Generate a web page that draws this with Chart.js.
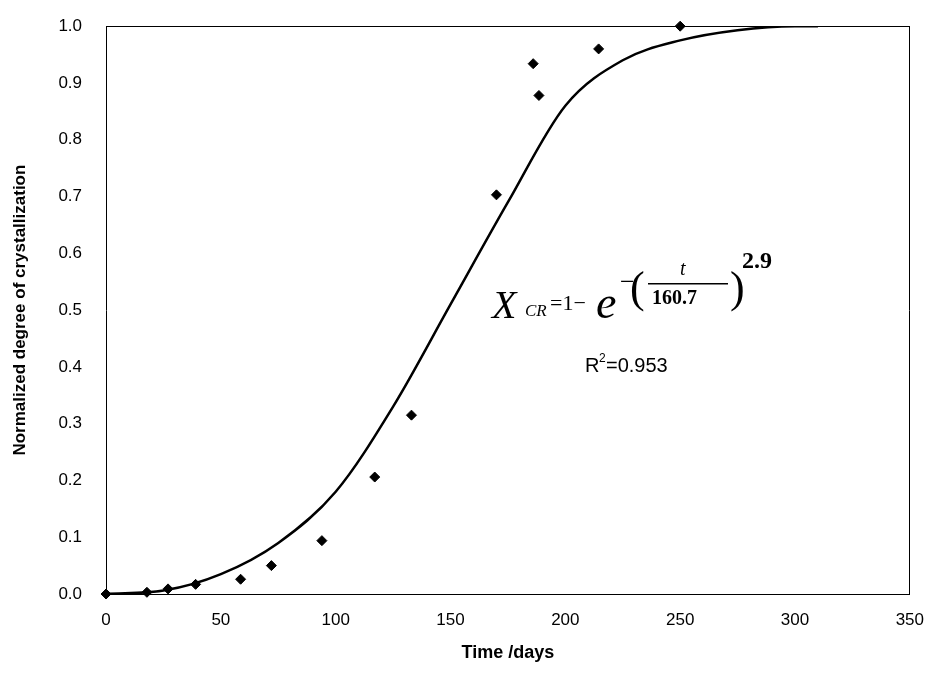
<!DOCTYPE html>
<html>
<head>
<meta charset="utf-8">
<script src="https://cdn.jsdelivr.net/npm/chart.js@4"></script>
<style>
  body { margin: 0; background: #fff; }
  #wrap { width: 932px; height: 684px; }
</style>
</head>
<body>
<div id="wrap"><canvas id="c"></canvas></div>
<script>
// measured points
const measDays = [0, 17.8, 27, 39, 58.6, 72, 94, 117, 133, 170, 186, 188.5, 214.5, 250];
const measX = [0, 0.003, 0.009, 0.017, 0.026, 0.05, 0.094, 0.206, 0.315, 0.703, 0.934, 0.878, 0.96, 1.0];

// fitted curve
const fitDays = [0, 25, 50, 75, 100, 125, 150, 175, 200, 225, 250, 275, 300, 310];
const fitX = [0, 0.006, 0.035, 0.09, 0.18, 0.33, 0.51, 0.69, 0.86, 0.94, 0.975, 0.993, 1.0, 1.0];

const xTicks = [0, 50, 100, 150, 200, 250, 300, 350];

const annotate = {
  id: 'annotate',
  afterDraw(chart) {
    const { ctx } = chart;
    ctx.save();
    ctx.fillStyle = '#000';
    ctx.textBaseline = 'alphabetic';
    ctx.font = 'italic 40px "Liberation Serif"';
    ctx.fillText('X', 492, 318);
    ctx.font = 'italic 17px "Liberation Serif"';
    ctx.fillText('CR', 525, 316);
    ctx.font = '22px "Liberation Serif"';
    ctx.fillText('=1\u2212', 550, 310);
    ctx.font = 'italic 46px "Liberation Serif"';
    ctx.fillText('e', 596, 318);
    ctx.font = '26px "Liberation Serif"';
    ctx.fillText('\u2212', 620, 290);
    ctx.font = '44px "Liberation Serif"';
    ctx.fillText('(', 630, 302);
    ctx.fillText(')', 730, 302);
    ctx.font = 'italic 20px "Liberation Serif"';
    ctx.fillText('t', 680, 275);
    ctx.fillRect(648, 283, 80, 1.5);
    ctx.font = 'bold 20px "Liberation Serif"';
    ctx.fillText('160.7', 652, 304);
    ctx.font = 'bold 24px "Liberation Serif"';
    ctx.fillText('2.9', 742, 268);
    ctx.font = '20px "Liberation Sans"';
    ctx.fillText('R', 585, 372);
    ctx.font = '12px "Liberation Sans"';
    ctx.fillText('2', 599, 362);
    ctx.font = '20px "Liberation Sans"';
    ctx.fillText('=0.953', 606, 372);
    ctx.restore();
  }
};

new Chart(document.getElementById('c'), {
  type: 'scatter',
  data: {
    datasets: [
      {
        data: fitDays.map((d, i) => ({ x: d, y: fitX[i] })),
        showLine: true,
        borderColor: '#000',
        borderWidth: 2.5,
        pointRadius: 0,
        cubicInterpolationMode: 'monotone'
      },
      {
        data: measDays.map((d, i) => ({ x: d, y: measX[i] })),
        pointStyle: 'rectRot',
        pointRadius: 5,
        backgroundColor: '#000',
        borderColor: '#000',
        clip: false
      }
    ]
  },
  options: {
    responsive: true,
    maintainAspectRatio: false,
    animation: false,
    layout: { padding: { top: 10, right: 10, left: 6, bottom: 16 } },
    plugins: { legend: { display: false }, tooltip: { enabled: false } },
    scales: {
      x: {
        type: 'linear', min: 0, max: 350,
        afterBuildTicks: (axis) => { axis.ticks = xTicks.map(v => ({ value: v })); },
        grid: { display: false, drawTicks: true },
        border: { color: '#000', width: 1 },
        ticks: { color: '#000', font: { family: 'Liberation Sans', size: 17 }, padding: 8 },
        title: { display: true, text: 'Time /days', color: '#000', font: { family: 'Liberation Sans', size: 18, weight: 'bold' } }
      },
      x2: {
        type: 'linear', position: 'top', min: 0, max: 350,
        grid: { display: false }, ticks: { display: false },
        border: { color: '#000', width: 1 }
      },
      y: {
        min: 0, max: 1,
        grid: { display: false },
        border: { color: '#000', width: 1 },
        ticks: { stepSize: 0.1, color: '#000', font: { family: 'Liberation Sans', size: 17 }, padding: 16, callback: v => v.toFixed(1) },
        title: { display: true, text: 'Normalized degree of crystallization', color: '#000', padding: { top: 4, bottom: 12 }, font: { family: 'Liberation Sans', size: 17, weight: 'bold' } }
      },
      y2: {
        position: 'right', min: 0, max: 1,
        grid: { display: false }, ticks: { display: false },
        border: { color: '#000', width: 1 }
      }
    }
  },
  plugins: [annotate]
});
</script>
</body>
</html>
